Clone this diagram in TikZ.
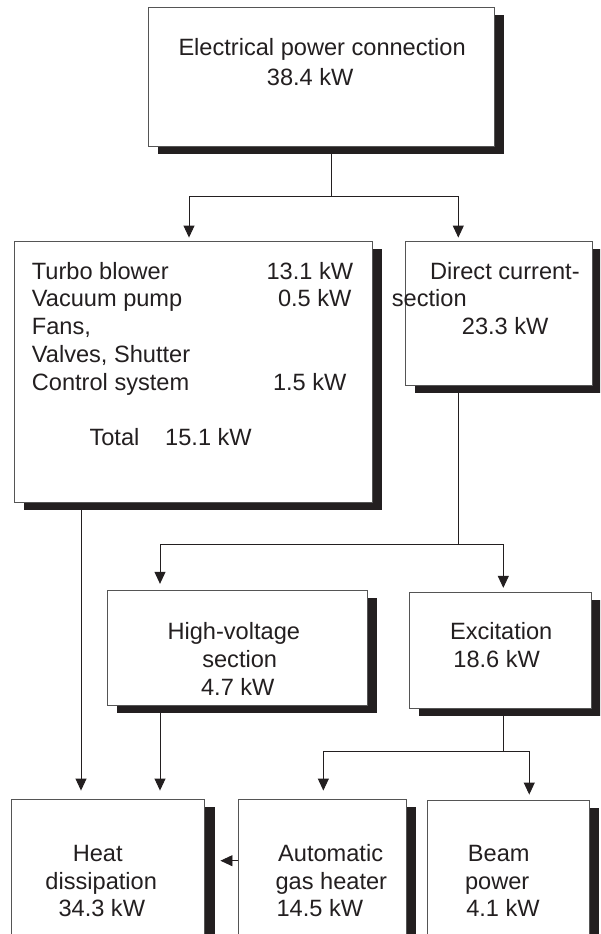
\documentclass[tikz,border=0pt]{standalone}
\usepackage{fontspec}
\setmainfont{Liberation Sans}
\usetikzlibrary{arrows.meta,shadows,calc}
\definecolor{ink}{RGB}{35,31,32}
\definecolor{boxline}{RGB}{85,85,85}
\definecolor{shadowc}{RGB}{35,31,32}
\begin{document}
\begin{tikzpicture}[x=1pt,y=1pt,
  boxstyle/.style={rectangle, draw=boxline, line width=0.9pt, fill=white, inner sep=0pt,
    general shadow={fill=shadowc, shadow xshift=10pt, shadow yshift=-7.5pt}},
  txt/.style={inner sep=0pt, text=ink, font=\fontsize{23.6}{27.6}\selectfont},
  conn/.style={draw=ink, line width=0.9pt},
  arr/.style={-{Triangle[width=11pt,length=12pt]}, shorten >=3pt}
]
\useasboundingbox (0,0) rectangle (600,-934);
\clip (0,0) rectangle (600,-934);
\fill[white] (0,0) rectangle (600,-934);

% boxes
\node[boxstyle, minimum width=346pt, minimum height=139.4pt] (top) at (321.3,-77) {};
\node[boxstyle, minimum width=358.3pt, minimum height=261.3pt] (left) at (193.15,-371.65) {};
\node[boxstyle, minimum width=187.4pt, minimum height=144.7pt] (dc) at (499,-313.35) {};
\node[boxstyle, minimum width=260pt, minimum height=115pt] (hv) at (237.3,-648.2) {};
\node[boxstyle, minimum width=182pt, minimum height=116pt] (exc) at (500,-650.3) {};
\node[boxstyle, minimum width=193pt, minimum height=161pt] (heat) at (108.2,-879.5) {};
\node[boxstyle, minimum width=167.3pt, minimum height=161pt] (auto) at (322.35,-879.5) {};
\node[boxstyle, minimum width=161.5pt, minimum height=160pt] (beam) at (508.25,-880) {};

% texts
\node[txt, anchor=base west] (topA) at (178.3,-56) {Electrical power connection};
\node[txt, anchor=base west] (topB) at (266.7,-85) {38.4 kW};

\node[txt, anchor=base west] (l1) at (31.7,-279.3) {Turbo blower};
\node[txt, anchor=base west] (l2) at (31.7,-306.7) {Vacuum pump};
\node[txt, anchor=base west] (l3) at (31.7,-334.3) {Fans,};
\node[txt, anchor=base west] (l4) at (31.7,-362.7) {Valves, Shutter};
\node[txt, anchor=base west] (l5) at (31.7,-390) {Control system};
\node[txt, anchor=base east] (v1) at (353.3,-279.3) {13.1 kW};
\node[txt, anchor=base east] (v2) at (351.7,-306.7) {0.5 kW};
\node[txt, anchor=base east] (v5) at (346.7,-390) {1.5 kW};
\node[txt, anchor=base west] (tot) at (89.3,-445.7) {Total};
\node[txt, anchor=base west] (totv) at (165,-445.7) {15.1 kW};

\node[txt, anchor=base west] (dcA) at (430,-279.3) {Direct current-};
\node[txt, anchor=base west] (dcB) at (391.7,-306.7) {section};
\node[txt, anchor=base west] (dcC) at (461.7,-334.3) {23.3 kW};

\node[txt, anchor=base] (hvA) at (233.8,-639) {High-voltage};
\node[txt, anchor=base] (hvB) at (239.7,-667.7) {section};
\node[txt, anchor=base] (hvC) at (237.8,-695) {4.7 kW};

\node[txt, anchor=base] (excA) at (501.2,-639) {Excitation};
\node[txt, anchor=base] (excB) at (496.7,-667.7) {18.6 kW};

\node[txt, anchor=base] (heatA) at (97.7,-861) {Heat};
\node[txt, anchor=base] (heatB) at (101.2,-889.3) {dissipation};
\node[txt, anchor=base] (heatC) at (101.8,-916) {34.3 kW};

\node[txt, anchor=base east] (autoA) at (383.3,-861) {Automatic};
\node[txt, anchor=base east] (autoB) at (387.3,-889.3) {gas heater};
\node[txt, anchor=base east] (autoC) at (363.3,-916) {14.5 kW};

\node[txt, anchor=base] (beamA) at (498.8,-861) {Beam};
\node[txt, anchor=base] (beamB) at (497.2,-889.3) {power};
\node[txt, anchor=base] (beamC) at (503,-916) {4.1 kW};

% connectors
\coordinate (j1) at (331.7,-196.7);
\coordinate (j2) at (458.3,-544.7);
\coordinate (j3) at (503.3,-751.7);

\draw[conn] (top.south -| j1) -- (j1);
\draw[conn, arr] (j1) -| ([xshift=-4.15pt]left.north);
\draw[conn, arr] (j1) -| ([xshift=-40.7pt]dc.north);

\draw[conn] (dc.south -| j2) -- (j2);
\draw[conn, arr, shorten >=6.4pt] (j2) -| ([xshift=-77.3pt]hv.north);
\draw[conn, arr, shorten >=4pt] (j2) -| ([xshift=3.3pt]exc.north);

\draw[conn] (exc.south -| j3) -- (j3);
\draw[conn, arr, shorten >=8pt] (j3) -| ([xshift=1pt]auto.north);
\draw[conn, arr, shorten >=5pt] (j3) -| ([xshift=21pt]beam.north);

\draw[conn, arr, shorten >=8pt] ([xshift=-112.15pt]left.south) -- ([xshift=-27.2pt]heat.north);
\draw[conn, arr, shorten >=8pt] ([xshift=-77.3pt]hv.south) -- ([xshift=51.8pt]heat.north);
\draw[conn, arr, shorten >=15.3pt] ([yshift=18.8pt]auto.west) -- ([yshift=18.8pt]heat.east);
\end{tikzpicture}
\end{document}
